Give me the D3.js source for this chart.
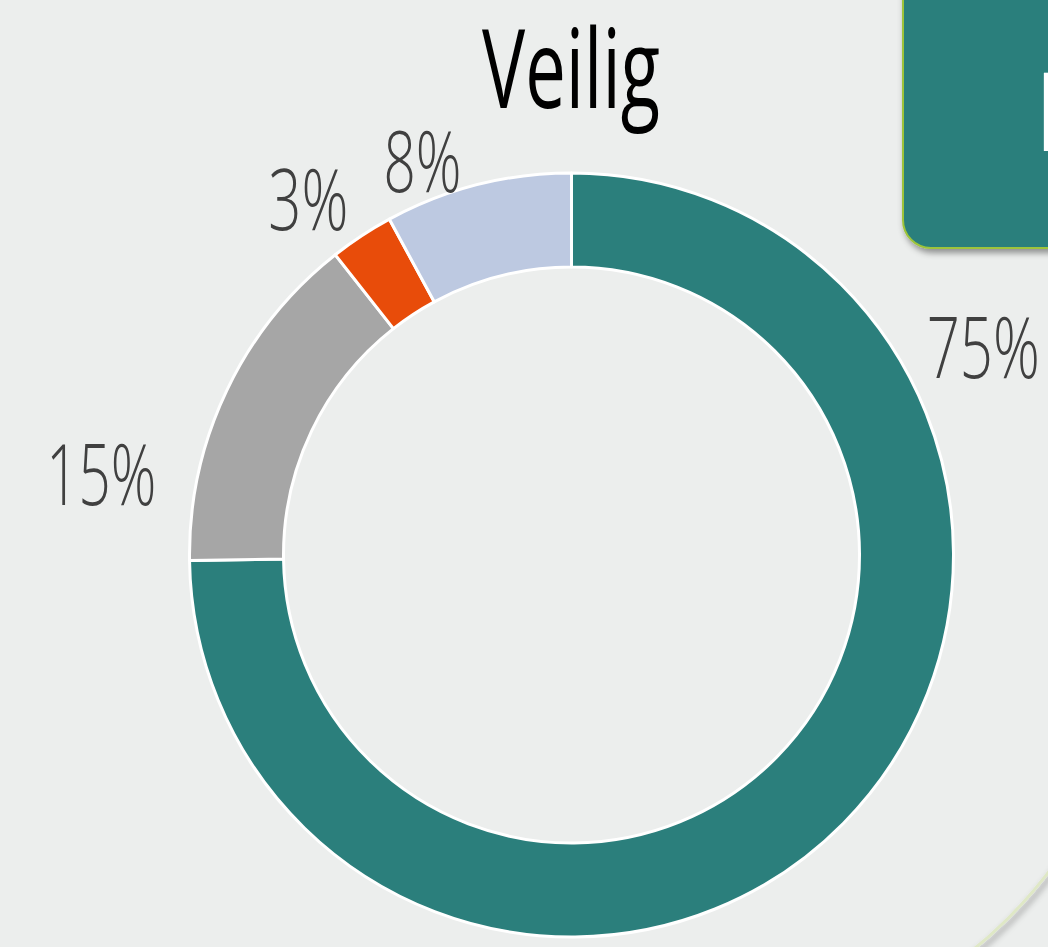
<!DOCTYPE html>
<html>
<head>
<meta charset="utf-8">
<script src="https://cdn.jsdelivr.net/npm/d3@7"></script>
<style>
  html, body { margin: 0; padding: 0; background: #eceeed; overflow: hidden; }
  text { font-family: "Open Sans", "DejaVu Sans", sans-serif; }
</style>
</head>
<body>
<div id="chart"></div>
<script>
// data
var categories = ["a", "b", "c", "d"];
var values = [74.7, 14.6, 2.7, 7.9];
var labels = ["75%", "15%", "3%", "8%"];
var colors = ["#2b7f7c", "#a6a6a6", "#e84c0a", "#bdc9e1"];
var title = "Veilig";

// where in the slice (0..1) and how far out the label sits
var labelFrac = [0.235, 0.2, 0.17, 0.27];
var labelRad = [461, 477, 442, 420];
var labelWidth = [113, 110, 80, 78];

var W = 1048, H = 947;
var cx = 571.5, cy = 555, rOuter = 382, rInner = 288;

var svg = d3.select("#chart").append("svg")
    .attr("width", W)
    .attr("height", H);

var defs = svg.append("defs");
var sh = defs.append("filter").attr("id", "shadow")
    .attr("x", "-20%").attr("y", "-20%").attr("width", "140%").attr("height", "140%");
sh.append("feDropShadow").attr("dx", 2).attr("dy", 4).attr("stdDeviation", 3)
    .attr("flood-color", "#000").attr("flood-opacity", 0.4);
defs.append("clipPath").attr("id", "corner")
    .append("rect").attr("x", 940).attr("y", 830).attr("width", 120).attr("height", 130);

svg.append("rect").attr("width", W).attr("height", H).attr("fill", "#eceeed");

// teal box top right (partly cut off)
svg.append("rect")
    .attr("x", 903).attr("y", -40)
    .attr("width", 220).attr("height", 288)
    .attr("rx", 28)
    .attr("fill", "#2b7f7c")
    .attr("stroke", "#9dc43a")
    .attr("stroke-width", 2)
    .attr("filter", "url(#shadow)");
svg.append("text")
    .attr("x", 1034).attr("y", 151)
    .attr("font-size", 110)
    .attr("font-weight", 700)
    .attr("fill", "#fff")
    .text("I");

// faint outline at bottom right
svg.append("g").attr("clip-path", "url(#corner)")
  .append("circle")
    .attr("cx", 690).attr("cy", 600).attr("r", 450)
    .attr("fill", "none")
    .attr("stroke", "#dfe8c6")
    .attr("stroke-width", 3)
    .attr("filter", "url(#shadow)");

var pie = d3.pie().sort(null).value(function(d) { return d; });
var arcs = pie(values);
var arc = d3.arc().innerRadius(rInner).outerRadius(rOuter);

var g = svg.append("g").attr("transform", "translate(" + cx + "," + cy + ")");

g.selectAll("path")
    .data(arcs)
    .enter().append("path")
    .attr("d", arc)
    .attr("fill", function(d, i) { return colors[i]; })
    .attr("stroke", "#fff")
    .attr("stroke-width", 3)
    .attr("stroke-linejoin", "round");

g.selectAll("text.lbl")
    .data(arcs)
    .enter().append("text")
    .attr("class", "lbl")
    .attr("x", function(d, i) {
        var a = d.startAngle + (d.endAngle - d.startAngle) * labelFrac[i];
        return Math.sin(a) * labelRad[i];
    })
    .attr("y", function(d, i) {
        var a = d.startAngle + (d.endAngle - d.startAngle) * labelFrac[i];
        return -Math.cos(a) * labelRad[i] + 30;
    })
    .attr("text-anchor", "middle")
    .attr("font-size", 84)
    .attr("font-weight", 300)
    .attr("fill", "#404040")
    .attr("textLength", function(d, i) { return labelWidth[i]; })
    .attr("lengthAdjust", "spacingAndGlyphs")
    .text(function(d, i) { return labels[i]; });

svg.append("text")
    .attr("x", 571).attr("y", 108)
    .attr("text-anchor", "middle")
    .attr("font-size", 109)
    .attr("font-weight", 400)
    .attr("fill", "#000")
    .attr("textLength", 178)
    .attr("lengthAdjust", "spacingAndGlyphs")
    .text(title);
</script>
</body>
</html>
